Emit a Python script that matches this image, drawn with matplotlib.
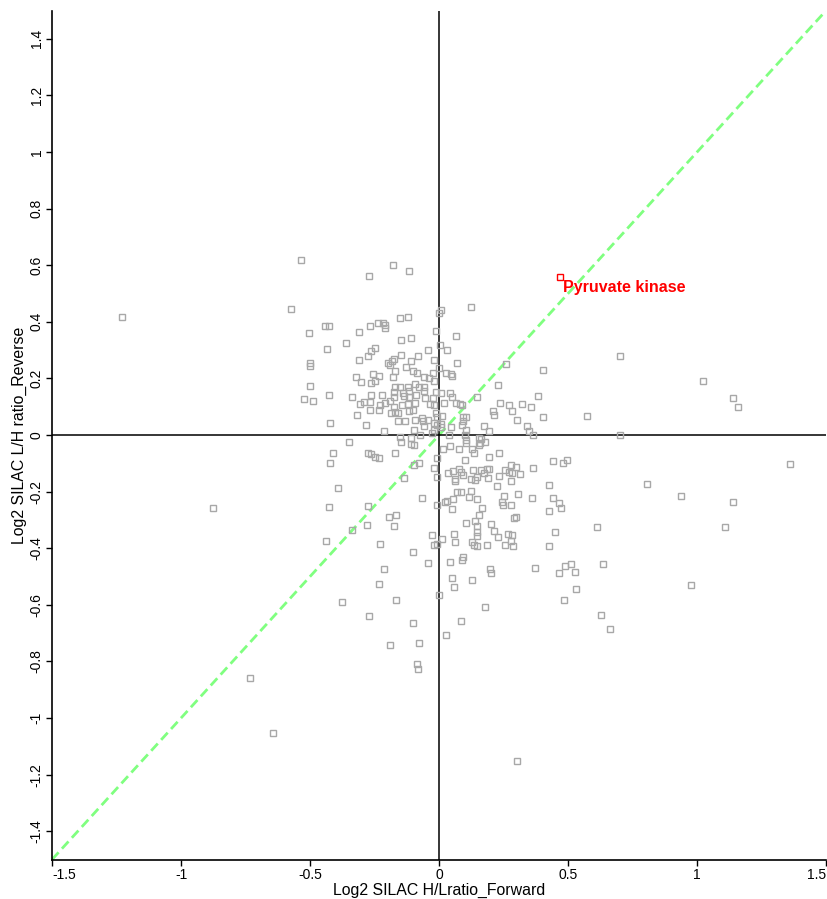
import numpy as np
import matplotlib
matplotlib.use("Agg")
import matplotlib.pyplot as plt

plt.rcParams["font.family"] = ["Liberation Sans", "DejaVu Sans"]

# Log2 SILAC ratios, forward (x) vs reverse (y)
fwd = [
    -0.535, -0.178, -0.271, -0.116, -0.574, -0.151, -0.120, -0.442, -0.426, -0.267,
    -0.236, -0.217, -0.209, -0.209, -0.504, -0.310, -0.012, -0.147, -0.109, -0.360,
    -0.434, -0.248, -0.264, -0.275, -0.310, -0.147, -0.174, -0.182, -0.081, -0.109,
    -0.043, -0.019, -0.500, -0.500, -0.198, -0.190, -0.128, -0.171, -0.101, -0.085,
    -0.023, -0.322, -0.302, -0.256, -0.233, -0.248, -0.264, -0.178, -0.058, -0.039,
    -0.019, -0.500, -0.093, -0.078, -0.058, -0.058, -0.171, -0.151, -0.120, -0.174,
    -0.140, -0.116, -0.012, -0.426, -0.337, -0.264, -0.221, -0.523, -0.488, -0.174,
    -0.136, -0.116, -0.089, -0.054, -0.023,
    # below first band
    -0.306, -0.291, -0.267, -0.229, -0.209, -0.190, -0.174, -0.143, -0.120, -0.093,
    -0.035, -0.019, -0.318, -0.267, -0.233, -0.186, -0.171, -0.159, -0.159, -0.132,
    -0.116, -0.101, -0.093, -0.066, -0.062, -0.043, -0.058, -0.012, -0.008, -0.019,
    -0.008, -0.422, -0.283, -0.097, -0.074, -0.019, -0.027, -0.213, -0.349, -0.151,
    -0.147, -0.109, -0.109, -0.097, -0.411, -0.275, -0.264, -0.248, -0.233, -0.171,
    -0.422, -0.078, -0.097, -0.008, -0.019, -0.008, -0.136, -0.391, -0.066, -0.426,
    -0.275, -0.008, -0.194, -0.167, -0.279, -0.174, -0.337, -0.438, -0.229, -0.027,
    -0.019, -0.008,
    # right of zero, upper
    0.008, 0.000, 0.124, 0.066, 0.004, 0.031, 0.070, 0.260, 0.403, 0.000,
    0.027, 0.047, 0.050, 0.229, 0.008, 0.043, 0.050, 0.147, 0.384,
    # right of zero, around the axis
    0.019, 0.066, 0.081, 0.089, 0.012, 0.093, 0.105, 0.093, 0.089, 0.008,
    0.008, 0.047, 0.105, 0.174, 0.194, 0.209, 0.213, 0.236, 0.271, 0.283,
    0.322, 0.357, 0.302, 0.403, 0.341, 0.349, 0.364, 0.574, 0.039, 0.101,
    0.105, 0.105, 0.155, 0.163, 0.159, 0.178, 0.016, 0.043, 0.078, 0.128,
    0.136, 0.155, 0.233, 0.194, 0.101, 0.442, 0.481, 0.496, 0.364, 0.035,
    0.054, 0.078, 0.085, 0.062, 0.062, 0.093, 0.132, 0.163, 0.186, 0.194,
    0.174, 0.190, 0.124, 0.140, 0.147, 0.233, 0.256, 0.279, 0.298, 0.271,
    0.283, 0.314, 0.279, 0.225, 0.426, 0.070, 0.085, 0.124, 0.306, 0.252,
    0.244, 0.248, 0.279, 0.116, 0.147, 0.023, 0.031, 0.054, 0.050, 0.167,
    0.360, 0.442, 0.465, 0.473, 0.426, 0.155, 0.291, 0.298, 0.140, 0.105,
    0.147, 0.202, 0.147, 0.147, 0.213, 0.229, 0.267, 0.283, 0.279, 0.450,
    0.058, 0.062, 0.012, 0.128, 0.136, 0.147, 0.186, 0.256, 0.287, 0.426,
    # lower right
    0.043, 0.093, 0.089, 0.198, 0.202, 0.372, 0.488, 0.512, 0.465, 0.527,
    0.050, 0.058, 0.128, 0.000, 0.531, 0.484, 0.178, 0.085, 0.027,
    # lower left
    -0.101, -0.043, -0.213, -0.233, -0.376, -0.167, -0.271, -0.101, -0.190, -0.078,
    -0.085, -0.081,
    # far right
    0.702, 1.023, 1.140, 1.159, 0.702, 1.360, 0.806, 0.938, 1.140, 0.612,
    1.109, 0.636, 0.977, 0.628, 0.663,
    # far left / far bottom
    -1.229, -0.876, -0.733, -0.643, 0.302,
]

rev = [
    0.618, 0.601, 0.562, 0.580, 0.445, 0.413, 0.417, 0.385, 0.385, 0.385,
    0.396, 0.396, 0.389, 0.378, 0.360, 0.364, 0.368, 0.336, 0.343, 0.325,
    0.304, 0.307, 0.297, 0.279, 0.265, 0.283, 0.269, 0.262, 0.279, 0.262,
    0.300, 0.265, 0.254, 0.244, 0.254, 0.247, 0.240, 0.226, 0.226, 0.219,
    0.219, 0.205, 0.187, 0.216, 0.209, 0.191, 0.184, 0.205, 0.205, 0.201,
    0.191, 0.173, 0.180, 0.170, 0.170, 0.155, 0.170, 0.170, 0.170, 0.152,
    0.148, 0.155, 0.152, 0.141, 0.134, 0.141, 0.141, 0.127, 0.120, 0.134,
    0.138, 0.134, 0.141, 0.131, 0.131,
    0.110, 0.117, 0.117, 0.106, 0.113, 0.120, 0.099, 0.106, 0.110, 0.113,
    0.110, 0.106, 0.071, 0.088, 0.088, 0.078, 0.081, 0.078, 0.049, 0.049,
    0.085, 0.088, 0.053, 0.060, 0.049, 0.053, 0.032, 0.078, 0.064, 0.042,
    0.035, 0.042, 0.035, 0.018, 0.000, 0.018, 0.007, 0.014, -0.025, -0.007,
    -0.025, -0.011, -0.032, -0.035, -0.064, -0.064, -0.067, -0.078, -0.081, -0.064,
    -0.099, -0.099, -0.106, -0.081, -0.117, -0.148, -0.152, -0.187, -0.223, -0.254,
    -0.251, -0.247, -0.290, -0.283, -0.318, -0.322, -0.336, -0.375, -0.385, -0.353,
    -0.389, -0.385,
    0.442, 0.431, 0.452, 0.350, 0.318, 0.300, 0.254, 0.251, 0.230, 0.237,
    0.219, 0.216, 0.209, 0.177, 0.148, 0.148, 0.134, 0.134, 0.138,
    0.113, 0.113, 0.110, 0.106, 0.067, 0.064, 0.064, 0.049, 0.035, 0.039,
    0.028, 0.028, 0.018, 0.032, 0.014, 0.085, 0.071, 0.113, 0.106, 0.085,
    0.110, 0.099, 0.053, 0.064, 0.032, 0.014, 0.000, 0.067, 0.000, 0.000,
    -0.018, -0.028, -0.011, -0.014, -0.028, -0.025, -0.049, -0.039, -0.049, -0.049,
    -0.064, -0.035, -0.064, -0.078, -0.088, -0.092, -0.099, -0.088, -0.117, -0.134,
    -0.127, -0.120, -0.131, -0.156, -0.163, -0.141, -0.124, -0.124, -0.120, -0.120,
    -0.134, -0.152, -0.156, -0.159, -0.148, -0.145, -0.124, -0.106, -0.113, -0.131,
    -0.134, -0.138, -0.163, -0.180, -0.177, -0.201, -0.201, -0.198, -0.208, -0.216,
    -0.237, -0.247, -0.247, -0.219, -0.226, -0.237, -0.233, -0.226, -0.262, -0.258,
    -0.223, -0.223, -0.240, -0.258, -0.269, -0.283, -0.293, -0.290, -0.304, -0.311,
    -0.322, -0.315, -0.343, -0.357, -0.339, -0.360, -0.350, -0.353, -0.375, -0.343,
    -0.350, -0.378, -0.367, -0.378, -0.389, -0.392, -0.389, -0.389, -0.392, -0.392,
    -0.449, -0.431, -0.442, -0.473, -0.488, -0.470, -0.463, -0.456, -0.488, -0.484,
    -0.505, -0.537, -0.512, -0.565, -0.544, -0.583, -0.608, -0.657, -0.707,
    -0.413, -0.452, -0.473, -0.527, -0.590, -0.583, -0.640, -0.664, -0.742, -0.735,
    -0.809, -0.827,
    0.279, 0.191, 0.131, 0.099, 0.000, -0.102, -0.173, -0.216, -0.237, -0.325,
    -0.325, -0.456, -0.530, -0.636, -0.686,
    0.417, -0.258, -0.859, -1.053, -1.152,
]

hit_name = "Pyruvate kinase"
hit_x = 0.469
hit_y = 0.558

x_ticks = [-1.5, -1, -0.5, 0, 0.5, 1, 1.5]
y_ticks = [-1.4, -1.2, -1, -0.8, -0.6, -0.4, -0.2, 0, 0.2, 0.4, 0.6, 0.8, 1, 1.2, 1.4]

fig = plt.figure(figsize=(8.27, 8.99), dpi=100)
ax = fig.add_axes([0.0629, 0.0439, 0.936, 0.9444])

# diagonal y = x
ax.plot([-1.5, 1.5], [-1.5, 1.5], color="#80ff80", lw=2, ls=(0, (3.5, 1.8)), zorder=1)
ax.axhline(0, color="black", lw=1.1, zorder=2)
ax.axvline(0, color="black", lw=1.1, zorder=2)

ax.plot(fwd, rev, ls="none", marker="s", ms=5, mfc="none", mec="#a8a8a8", mew=1, zorder=3)
ax.plot([hit_x], [hit_y], ls="none", marker="s", ms=5, mfc="none", mec="red", mew=1, zorder=4)
ax.text(hit_x + 0.012, hit_y - 0.035, hit_name, color="red", fontsize=11.5,
        fontweight="bold", ha="left", va="center")

ax.set_xlim(-1.5, 1.5)
ax.set_ylim(-1.5, 1.5)
ax.set_xticks(x_ticks)
ax.set_xticklabels([f"{v:g}" for v in x_ticks])
ax.set_yticks(y_ticks)
ax.set_yticklabels([f"{v:g}" for v in y_ticks], rotation=90, va="center")
ax.tick_params(direction="out", length=4, width=1, labelsize=10, pad=2)

# end labels sit inside the axis span, like the original
xl = ax.get_xticklabels()
xl[0].set_horizontalalignment("left")
xl[-1].set_horizontalalignment("right")

for side in ["top", "right"]:
    ax.spines[side].set_visible(False)
for side in ["left", "bottom"]:
    ax.spines[side].set_linewidth(1.2)

ax.set_xlabel("Log2 SILAC H/Lratio_Forward", fontsize=11.4, labelpad=1)
ax.set_ylabel("Log2 SILAC L/H ratio_Reverse", fontsize=11.4, labelpad=2)

fig.savefig("out.png", dpi=100)
